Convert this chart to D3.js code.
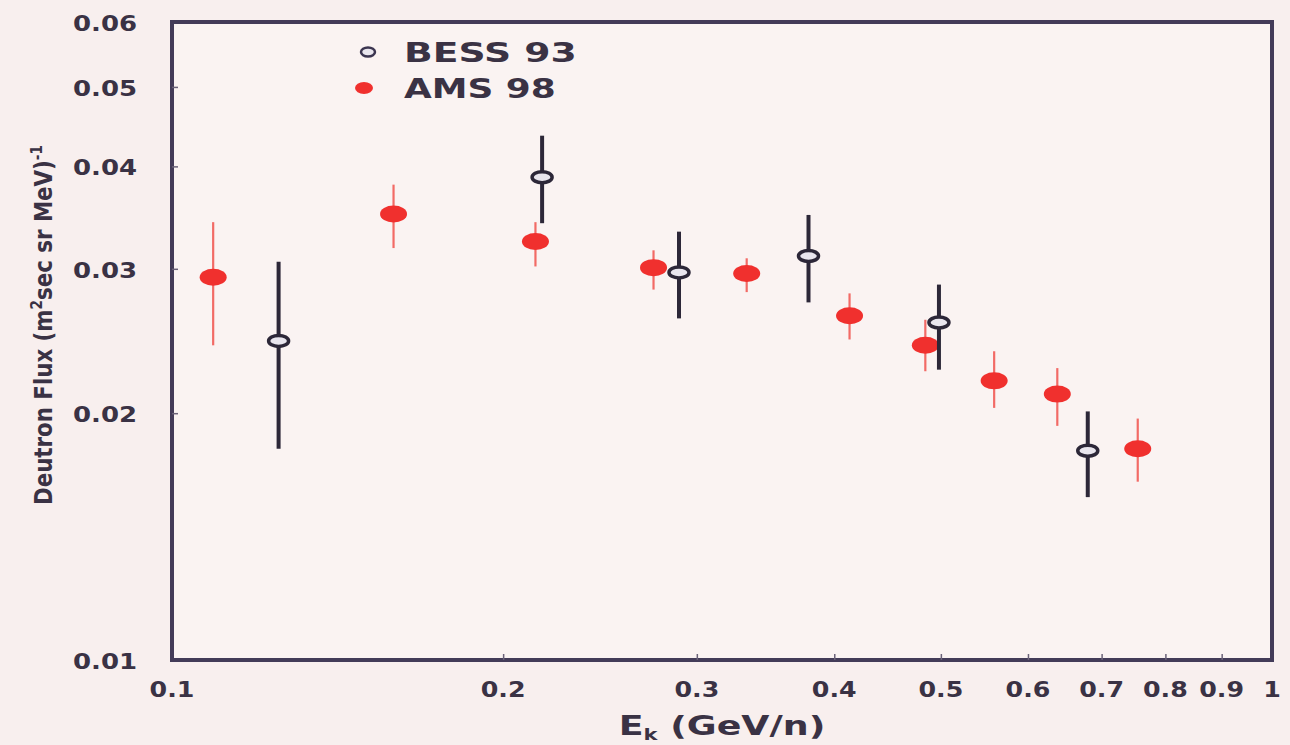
<!DOCTYPE html>
<html>
<head>
<meta charset="utf-8">
<script src="https://cdn.jsdelivr.net/npm/d3@7"></script>
<style>
  html, body { margin: 0; padding: 0; background: #f8efee; }
  svg { display: block; }
  text { font-family: "DejaVu Sans", "Liberation Sans", Arial, sans-serif; font-weight: bold; fill: #3a3244; }
</style>
</head>
<body>
<svg id="chart" width="1290" height="745"></svg>
<script>
// Kinetic energy per nucleon (GeV/n), flux and error-bar limits
const bessEk   = [0.125, 0.217, 0.289, 0.379, 0.498, 0.680];
const bessFlux = [0.0245, 0.0388, 0.0297, 0.0311, 0.0258, 0.0180];
const bessHi   = [0.0306, 0.0436, 0.0333, 0.0349, 0.0287, 0.0201];
const bessLo   = [0.0181, 0.0341, 0.0261, 0.0273, 0.0226, 0.0158];

const amsEk   = [0.109, 0.159, 0.214, 0.274, 0.333, 0.413, 0.484, 0.559, 0.638, 0.755];
const amsFlux = [0.0293, 0.0350, 0.0324, 0.0301, 0.0296, 0.0263, 0.0242, 0.0219, 0.0211, 0.0181];
const amsHi   = [0.0342, 0.0380, 0.0342, 0.0316, 0.0309, 0.0280, 0.0260, 0.0238, 0.0227, 0.0197];
const amsLo   = [0.0242, 0.0318, 0.0302, 0.0283, 0.0281, 0.0246, 0.0225, 0.0203, 0.0193, 0.0165];

const xTicks = [0.1, 0.2, 0.3, 0.4, 0.5, 0.6, 0.7, 0.8, 0.9, 1];
const xTickLabels = ["0.1", "0.2", "0.3", "0.4", "0.5", "0.6", "0.7", "0.8", "0.9", "1"];
const yTicks = [0.01, 0.02, 0.03, 0.04, 0.05, 0.06];
const yTickLabels = ["0.01", "0.02", "0.03", "0.04", "0.05", "0.06"];

const svg = d3.select("#chart");
const m = { left: 172, right: 1272, top: 22, bottom: 660 };

const x = d3.scaleLog().domain([0.1, 1]).range([m.left, m.right]);
const y = d3.scaleLog().domain([0.01, 0.06]).range([m.bottom, m.top]);

// plot frame
svg.append("rect")
  .attr("x", m.left).attr("y", m.top)
  .attr("width", m.right - m.left).attr("height", m.bottom - m.top)
  .attr("fill", "#faf3f2")
  .attr("stroke", "#433b58").attr("stroke-width", 4);

// inward ticks
svg.append("g").attr("transform", `translate(0,${m.bottom})`)
  .call(d3.axisTop(x).tickValues(xTicks.slice(1, -1)).tickSize(6).tickFormat(""))
  .call(g => g.select(".domain").remove())
  .call(g => g.selectAll("line").attr("stroke", "#6a6278").attr("stroke-width", 1.5));
svg.append("g").attr("transform", `translate(${m.left},0)`)
  .call(d3.axisRight(y).tickValues(yTicks.slice(1, -1)).tickSize(6).tickFormat(""))
  .call(g => g.select(".domain").remove())
  .call(g => g.selectAll("line").attr("stroke", "#6a6278").attr("stroke-width", 1.5));

// the lettering is a wide, heavy face: stretch text horizontally about its anchor
const wide = (px, py, sx) => `translate(${px},${py}) scale(${sx},1)`;

// tick labels
svg.append("g").selectAll("text").data(xTicks).join("text")
  .attr("transform", d => wide(x(d), 697, 1.15))
  .attr("text-anchor", "middle")
  .style("font-size", "22px")
  .text((d, i) => xTickLabels[i]);

svg.append("g").selectAll("text").data(yTicks).join("text")
  .attr("transform", d => wide(137, y(d) + 9, 1.18))
  .attr("text-anchor", "end")
  .style("font-size", "22px")
  .text((d, i) => yTickLabels[i]);

// axis titles
const xt = svg.append("text")
  .attr("transform", wide(722, 735, 1.4))
  .attr("text-anchor", "middle")
  .style("font-size", "26px");
xt.append("tspan").text("E");
xt.append("tspan").attr("dy", 5).style("font-size", "15px").text("k");
xt.append("tspan").attr("dy", -5).text(" (GeV/n)");

const yt = svg.append("text")
  .attr("text-anchor", "middle")
  .style("font-family", "'DejaVu Sans Condensed', 'DejaVu Sans', sans-serif")
  .style("font-size", "25px");
yt.append("tspan").text("Deutron Flux (m");
yt.append("tspan").attr("dy", -10).style("font-size", "16px").text("2");
yt.append("tspan").attr("dy", 10).text("sec sr MeV)");
yt.append("tspan").attr("dy", -10).style("font-size", "16px").text("-1");
// fit the rotated title to the span it covers along the axis
const ytLen = yt.node().getComputedTextLength();
yt.attr("transform", `translate(52,325) rotate(-90) scale(${360 / ytLen},1)`);

// AMS 98: red filled markers with thin error bars
const red = "#f0302e";
const ams = amsEk.map((e, i) => ({ e, f: amsFlux[i], hi: amsHi[i], lo: amsLo[i] }));
const gA = svg.append("g");
gA.selectAll("line").data(ams).join("line")
  .attr("x1", d => x(d.e)).attr("x2", d => x(d.e))
  .attr("y1", d => y(d.hi)).attr("y2", d => y(d.lo))
  .attr("stroke", "#f26a66").attr("stroke-width", 2.2);
gA.selectAll("ellipse").data(ams).join("ellipse")
  .attr("cx", d => x(d.e)).attr("cy", d => y(d.f))
  .attr("rx", 13.5).attr("ry", 8.5)
  .attr("fill", red);

// BESS 93: open markers with thick error bars
const bess = bessEk.map((e, i) => ({ e, f: bessFlux[i], hi: bessHi[i], lo: bessLo[i] }));
const gB = svg.append("g");
gB.selectAll("line").data(bess).join("line")
  .attr("x1", d => x(d.e)).attr("x2", d => x(d.e))
  .attr("y1", d => y(d.hi)).attr("y2", d => y(d.lo))
  .attr("stroke", "#2c2738").attr("stroke-width", 4);
gB.selectAll("ellipse").data(bess).join("ellipse")
  .attr("cx", d => x(d.e)).attr("cy", d => y(d.f))
  .attr("rx", 10).attr("ry", 5.5)
  .attr("fill", "#e9e6ee")
  .attr("stroke", "#2c2738").attr("stroke-width", 3.5);

// legend
svg.append("ellipse").attr("cx", 368).attr("cy", 52).attr("rx", 7).attr("ry", 4.5)
  .attr("fill", "#e9e6ee").attr("stroke", "#3b3550").attr("stroke-width", 2.5);
svg.append("text").attr("transform", wide(404, 62, 1.45)).style("font-size", "26px").text("BESS 93");
svg.append("ellipse").attr("cx", 364).attr("cy", 88).attr("rx", 9).attr("ry", 6)
  .attr("fill", red);
svg.append("text").attr("transform", wide(404, 98, 1.38)).style("font-size", "26px").text("AMS 98");
</script>
</body>
</html>
